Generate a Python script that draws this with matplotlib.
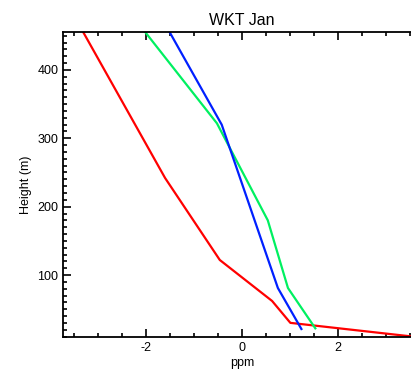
import numpy as np
import matplotlib
matplotlib.use('Agg')
import matplotlib.pyplot as plt
from matplotlib.ticker import MultipleLocator

plt.rcParams['font.family'] = ['Liberation Sans', 'DejaVu Sans']
plt.rcParams['axes.unicode_minus'] = False

# profile data (ppm vs height)
red_x = [-3.31, -1.60, -0.46, 0.63, 1.01, 3.55]
red_y = [456, 242, 122, 62, 30, 10]

green_x = [-2.02, -0.52, 0.54, 0.96, 1.53]
green_y = [456, 322, 180, 81, 22]

blue_x = [-1.51, -0.42, 0.75, 1.24]
blue_y = [456, 320, 81, 21]

fig = plt.figure(figsize=(4.11, 3.73), dpi=100)
ax = fig.add_axes([0.154, 0.0965, 0.869, 0.8185])

ax.plot(red_x, red_y, color='#ff0000', lw=1.6)
ax.plot(green_x, green_y, color='#00f060', lw=1.6)
ax.plot(blue_x, blue_y, color='#0020ff', lw=1.6)

ax.set_xlim(-3.72, 3.72)
ax.set_ylim(9.3, 456)

ax.xaxis.set_major_locator(MultipleLocator(2))
ax.xaxis.set_minor_locator(MultipleLocator(0.5))
ax.yaxis.set_major_locator(MultipleLocator(100))
ax.yaxis.set_minor_locator(MultipleLocator(10))

ax.tick_params(which='both', direction='in', top=True, right=True,
               width=1.2, labelsize=9, colors='black')
ax.tick_params(which='major', length=6)
ax.tick_params(which='minor', length=3)
for s in ax.spines.values():
    s.set_linewidth(1.3)

ax.set_title('WKT Jan', fontsize=11.5, pad=5)
ax.set_xlabel('ppm', fontsize=9, labelpad=2)
ax.set_ylabel('Height (m)', fontsize=9, labelpad=4)

fig.savefig('out.png', dpi=100)
